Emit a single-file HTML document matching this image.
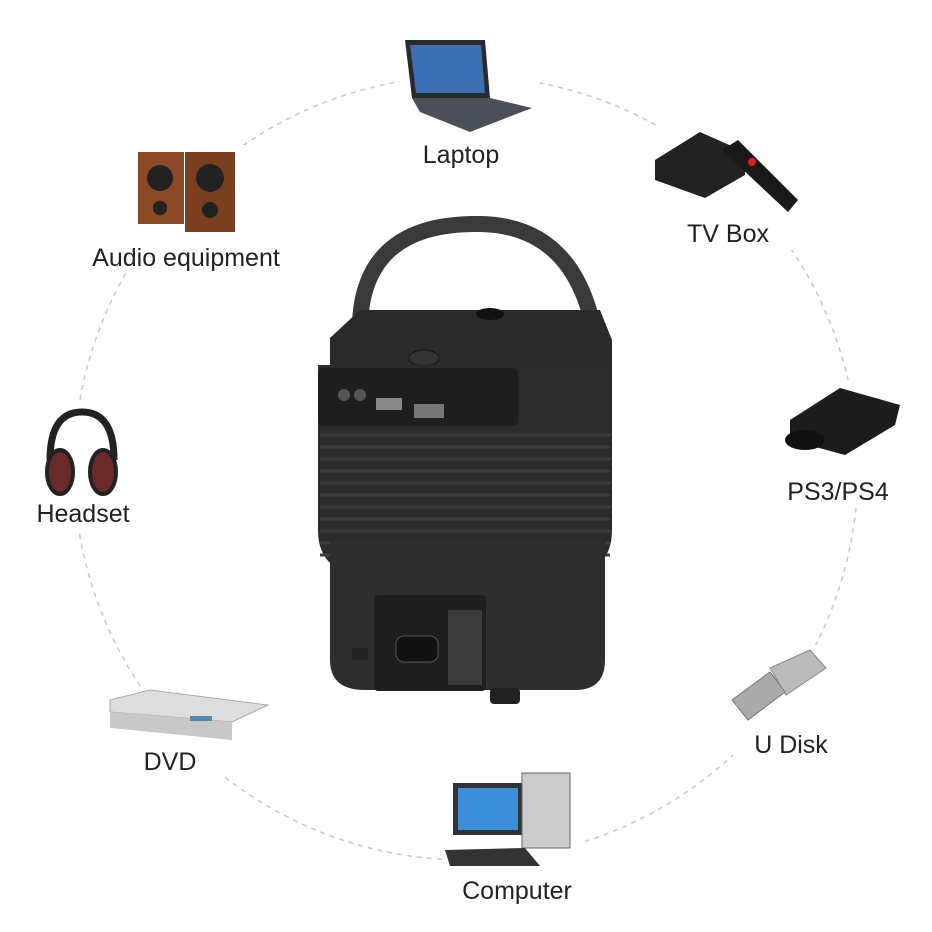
<!DOCTYPE html>
<html><head><meta charset="utf-8"><style>
html,body{margin:0;padding:0;background:#fff;}
svg{display:block}
text{font-family:"Liberation Sans",sans-serif;font-size:25px;fill:#222;}
</style></head><body>
<svg width="932" height="932" viewBox="0 0 932 932">
<circle cx="466" cy="468" r="392" fill="none" stroke="#c8c8c8" stroke-width="1.5" stroke-dasharray="5 5"/>
<rect x="400" y="35" width="140" height="135" fill="#fff"/>
<rect x="650" y="125" width="155" height="125" fill="#fff"/>
<rect x="85" y="145" width="205" height="125" fill="#fff"/>
<rect x="30" y="405" width="100" height="125" fill="#fff"/>
<rect x="775" y="380" width="130" height="125" fill="#fff"/>
<rect x="725" y="645" width="110" height="110" fill="#fff"/>
<rect x="105" y="690" width="165" height="85" fill="#fff"/>
<rect x="445" y="770" width="140" height="130" fill="#fff"/>

<!-- Laptop -->
<polygon points="405,40 485,40 490,98 412,98" fill="#2a2a2a"/>
<polygon points="410,45 481,45 485,93 416,93" fill="#3d6fb5"/>
<polygon points="412,98 490,98 532,108 470,132 420,112" fill="#4a4f5a"/>
<text x="461" y="163" text-anchor="middle">Laptop</text>
<!-- TV box -->
<polygon points="655,160 700,132 745,152 745,175 705,198 655,180" fill="#222"/>
<polygon points="722,150 738,140 798,200 788,212" fill="#1a1a1a"/>
<circle cx="752" cy="162" r="4" fill="#d22"/>
<text x="728" y="242" text-anchor="middle">TV Box</text>
<!-- speakers -->
<rect x="138" y="152" width="46" height="72" fill="#8a4a25"/>
<rect x="185" y="152" width="50" height="80" fill="#7a3f1f"/>
<circle cx="160" cy="178" r="13" fill="#222"/><circle cx="210" cy="178" r="14" fill="#222"/>
<circle cx="160" cy="208" r="7" fill="#222"/><circle cx="210" cy="210" r="8" fill="#222"/>
<text x="186" y="266" text-anchor="middle">Audio equipment</text>
<!-- headset -->
<path d="M50,460 Q50,412 82,412 Q114,412 114,460" fill="none" stroke="#222" stroke-width="7"/>
<ellipse cx="60" cy="472" rx="13" ry="22" fill="#6a2a2a" stroke="#222" stroke-width="4"/>
<ellipse cx="103" cy="472" rx="13" ry="22" fill="#6a2a2a" stroke="#222" stroke-width="4"/>
<text x="83" y="522" text-anchor="middle">Headset</text>
<!-- PS3 -->
<polygon points="790,420 840,388 900,405 895,425 845,455 790,440" fill="#1c1c1c"/>
<ellipse cx="805" cy="440" rx="20" ry="10" fill="#111"/>
<text x="838" y="500" text-anchor="middle">PS3/PS4</text>
<!-- U disk -->
<polygon points="770,668 810,650 826,668 786,695" fill="#bbb" stroke="#888"/>
<polygon points="732,700 770,672 785,692 748,720" fill="#aaa" stroke="#777"/>
<text x="791" y="753" text-anchor="middle">U Disk</text>
<!-- DVD -->
<polygon points="110,700 150,690 268,705 232,722 110,712" fill="#ddd" stroke="#aaa"/>
<polygon points="110,712 232,722 232,740 110,728" fill="#c8c8c8"/>
<rect x="190" y="716" width="22" height="5" fill="#58a"/>
<text x="170" y="770" text-anchor="middle">DVD</text>
<!-- computer -->
<rect x="453" y="783" width="70" height="52" fill="#333"/>
<rect x="458" y="788" width="60" height="42" fill="#3a8fd8"/>
<rect x="522" y="773" width="48" height="75" fill="#ccc" stroke="#666"/>
<polygon points="445,850 525,848 540,866 450,866" fill="#333"/>
<text x="517" y="899" text-anchor="middle">Computer</text>

<!-- projector -->
<path d="M360,340 Q355,222 480,224 Q600,226 600,400" fill="none" stroke="#3a3a3a" stroke-width="16"/>
<rect x="588" y="385" width="20" height="48" rx="8" fill="#333"/>
<circle cx="596" cy="412" r="8" fill="#999"/>
<polygon points="330,338 360,310 600,310 612,340 612,365 330,365" fill="#2a2a2a"/>
<ellipse cx="490" cy="314" rx="14" ry="6" fill="#111"/>
<ellipse cx="424" cy="358" rx="15" ry="8" fill="#333" stroke="#111"/>
<path d="M318,365 L612,365 L612,530 Q612,575 560,575 L370,575 Q318,575 318,530 Z" fill="#2b2b2b"/>
<g stroke="#3c3c3c" stroke-width="3">
<line x1="320" y1="435" x2="610" y2="435"/><line x1="320" y1="447" x2="610" y2="447"/>
<line x1="320" y1="459" x2="610" y2="459"/><line x1="320" y1="471" x2="610" y2="471"/>
<line x1="320" y1="483" x2="610" y2="483"/><line x1="320" y1="495" x2="610" y2="495"/>
<line x1="320" y1="507" x2="610" y2="507"/><line x1="320" y1="519" x2="610" y2="519"/>
<line x1="320" y1="531" x2="610" y2="531"/><line x1="320" y1="543" x2="610" y2="543"/>
<line x1="320" y1="555" x2="610" y2="555"/></g>
<rect x="318" y="368" width="200" height="58" rx="6" fill="#1e1e1e"/>
<rect x="376" y="398" width="26" height="12" fill="#888"/>
<rect x="414" y="404" width="30" height="14" fill="#777"/>
<circle cx="344" cy="395" r="6" fill="#555"/><circle cx="360" cy="395" r="6" fill="#555"/>
<path d="M330,540 L605,540 L605,660 Q605,690 575,690 L365,690 Q330,690 330,660 Z" fill="#2e2e2e"/>
<rect x="374" y="595" width="112" height="96" rx="4" fill="#1f1f1f"/>
<rect x="396" y="636" width="42" height="26" rx="8" fill="#111" stroke="#555"/>
<rect x="448" y="610" width="34" height="75" fill="#3a3a3a"/>
<rect x="352" y="648" width="16" height="12" fill="#222"/>
<rect x="490" y="688" width="30" height="16" rx="4" fill="#222"/>
</svg>
</body></html>
